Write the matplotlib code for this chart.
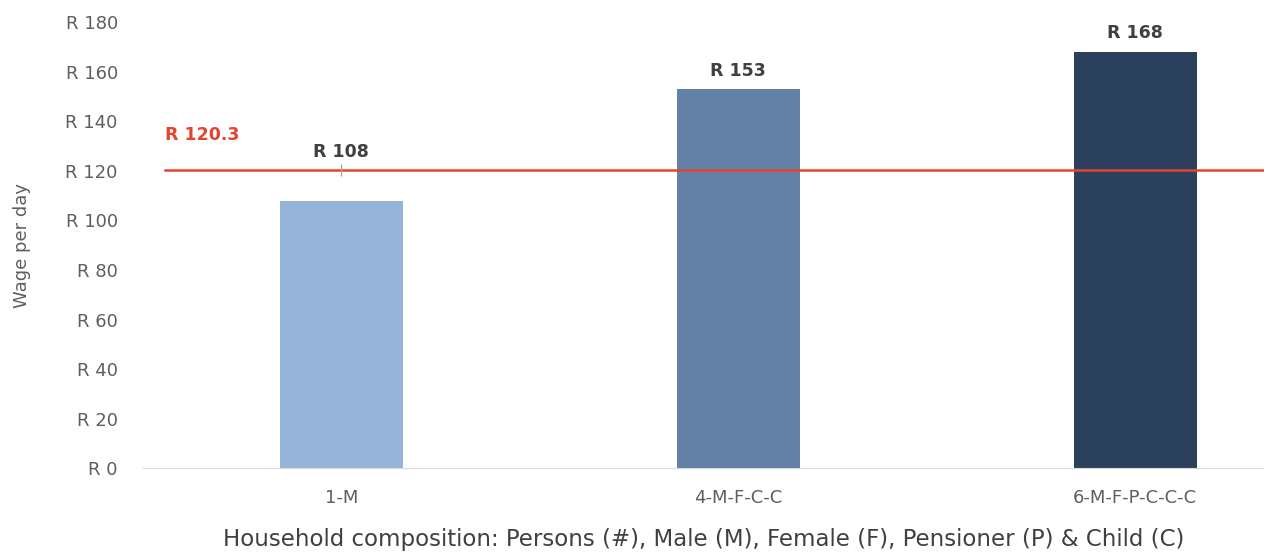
import matplotlib
matplotlib.use("Agg")
import matplotlib.pyplot as plt

plt.rcParams["font.family"] = ["DejaVu Sans"]

cats = ["1-M", "4-M-F-C-C", "6-M-F-P-C-C-C"]
wages = [108, 153, 168]
colors = ["#95b3d7", "#6380a6", "#2a405c"]
threshold = 120.3
yticks = list(range(0, 181, 20))

fig = plt.figure(figsize=(12.64, 5.56), dpi=100)
ax = fig.add_axes([0.113, 0.158, 0.887, 0.802])

x = list(range(len(cats)))
ax.bar(x, wages, width=0.31, color=colors, zorder=2)
# value labels sit above the bar, or above the red line when the bar is below it
for xi, v in zip(x, wages):
    ax.text(xi, max(v, threshold) + 7.5, f"R {v}", ha="center", va="center",
            fontsize=12.5, fontweight="bold", color="#404040")

ax.axhline(threshold, xmin=0.02, color="#e5432e", lw=1.8, zorder=3)
ax.plot(0, threshold, marker="|", ms=9, mew=1, color="#a6a6a6", zorder=4)
ax.text(-0.445, threshold + 14, f"R {threshold}", ha="left", va="center",
        fontsize=12.5, fontweight="bold", color="#e5432e")

ax.set_xlim(-0.5, 2.325)
ax.set_ylim(0, 180)
ax.set_xticks(x)
ax.set_xticklabels(cats, fontsize=13, color="#5f5f5f")
ax.set_yticks(yticks)
ax.set_yticklabels([f"R {t}" for t in yticks], fontsize=13, color="#5f5f5f")
ax.tick_params(axis="y", length=0, pad=18)
ax.tick_params(axis="x", length=0, pad=15)
for s in ["top", "right", "left"]:
    ax.spines[s].set_visible(False)
ax.spines["bottom"].set_color("#d9d9d9")
ax.set_ylabel("Wage per day", fontsize=13, color="#5f5f5f")
ax.yaxis.set_label_coords(-0.1, 0.5)
ax.set_xlabel("Household composition: Persons (#), Male (M), Female (F), Pensioner (P) & Child (C)",
              fontsize=16.5, color="#404040", labelpad=15)

fig.savefig("out.png", facecolor="white")
